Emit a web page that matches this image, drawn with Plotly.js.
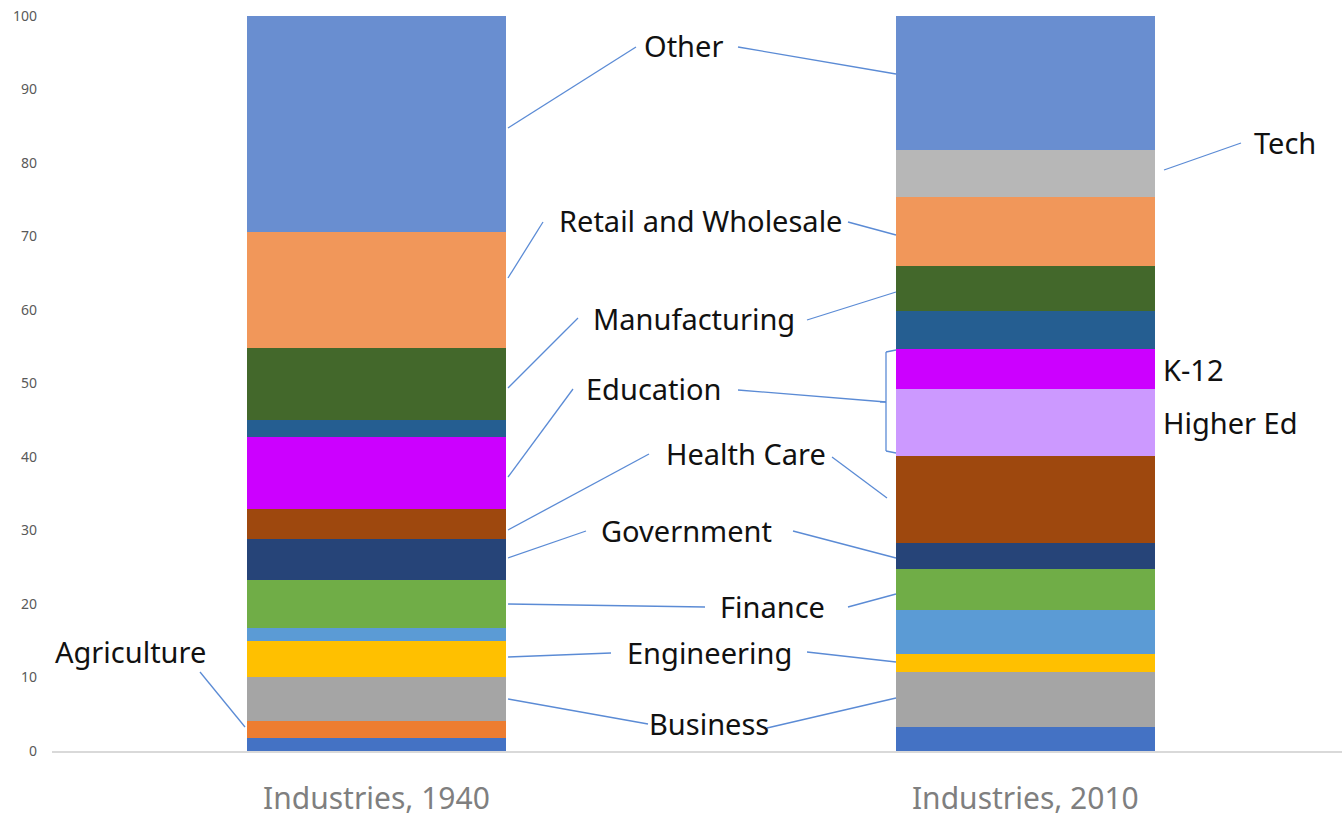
<!DOCTYPE html>
<html>
<head>
<meta charset="utf-8">
<script src="https://cdn.plot.ly/plotly-3.0.1.min.js"></script>
<style>html,body{margin:0;padding:0;background:#fff;}#chart{width:1342px;height:818px;}</style>
</head>
<body>
<div id="chart"></div>
<script>
// ---- data ----
const categories = ["Industries, 1940", "Industries, 2010"];
const seriesNames = ["Unlabeled A", "Agriculture", "Business", "Engineering", "Unlabeled B", "Finance",
  "Government", "Health Care", "Higher Ed", "Education (K-12)", "Unlabeled C", "Manufacturing",
  "Retail and Wholesale", "Tech", "Other"];
const values1940 = [1.8, 2.3, 6.0, 4.9, 1.7, 6.6, 5.5, 4.1, 0, 9.8, 2.3, 9.8, 15.8, 0, 29.4];
const values2010 = [3.2, 0, 7.5, 2.5, 6.0, 5.5, 3.6, 11.9, 9.0, 5.5, 5.1, 6.2, 9.4, 6.4, 18.2];
const yTickValues = [0, 10, 20, 30, 40, 50, 60, 70, 80, 90, 100];

// ---- styles ----
const colors = ["#4472C4", "#ED7D31", "#A5A5A5", "#FFC000", "#5B9BD5", "#70AD47",
  "#264478", "#9E480E", "#CC99FF", "#CC00FF", "#255E91", "#43682B",
  "#F1975A", "#B7B7B7", "#698ED0"];

const W = 1342, H = 818;
const M = {l: 52, r: 0, t: 16, b: 67};
const xRange = [-0.5, 1.488];
const plotW = W - M.l - M.r, plotH = H - M.t - M.b;
// helpers mapping layout pixel positions to axis coordinates
const X = px => xRange[0] + (px - M.l) / plotW * (xRange[1] - xRange[0]);
const Y = py => (H - M.b - py) / plotH * 100;

const traces = seriesNames.map((n, i) => ({
  type: "bar", name: n, x: categories, y: [values1940[i], values2010[i]],
  marker: {color: colors[i], line: {width: 0}}, hoverinfo: "name+y"
}));

// label annotations: [text, px, py]
const labels = [
  ["Other", 683, 45], ["Retail and Wholesale", 700, 220], ["Manufacturing", 694, 318],
  ["Education", 654, 388], ["Health Care", 746, 453], ["Government", 686, 530],
  ["Finance", 772, 606], ["Engineering", 709, 652], ["Business", 709, 723],
  ["Agriculture", 130, 651], ["Tech", 1285, 142], ["K-12", 1193, 369], ["Higher Ed", 1230, 422]
];
const annotations = labels.map(([t, px, py]) => ({
  text: t, x: X(px), y: Y(py), xref: "x", yref: "y", showarrow: false,
  font: {family: "Noto Sans, Open Sans, sans-serif", size: 29, color: "#111"},
  xanchor: "center", yanchor: "middle"
}));

// leader lines [x0,y0,x1,y1] in pixels
const leaders = [
  [508,128,636,47],[738,47,896,74],
  [508,278,543,222],[848,222,896,235],
  [508,388,578,318],[807,320,896,292],
  [508,477,573,389],[738,390,886,402],
  [508,530,649,454],[832,457,887,498],
  [508,558,586,531],[793,531,896,558],
  [508,604,705,607],[848,607,896,594],
  [508,657,611,653],[807,652,896,662],
  [508,699,648,724],[767,728,896,698],
  [200,672,245,727],[1164,170,1241,143],
  // bracket
  [896,350,886,352],[886,352,886,451],[886,451,896,453],[886,402,880,402]
];
const lineStyle = {color: "#5B8BD5", width: 1.3};
const shapes = leaders.map(([a,b,c,d]) => ({
  type: "line", xref: "x", yref: "y", x0: X(a), y0: Y(b), x1: X(c), y1: Y(d), line: lineStyle
}));

const layout = {
  width: W, height: H, margin: M, barmode: "stack", bargap: 0.6,
  paper_bgcolor: "#fff", plot_bgcolor: "#fff", showlegend: false,
  xaxis: {type: "category", range: xRange, showgrid: false, zeroline: false,
    showline: true, linecolor: "#D9D9D9", linewidth: 1.5, ticks: "",
    tickfont: {family: "Noto Sans, Open Sans, sans-serif", size: 30, color: "#7F7F7F"},
    ticklabelstandoff: 20},
  yaxis: {range: [0, 100], tickvals: yTickValues, showgrid: false, zeroline: false,
    showline: false, ticks: "",
    tickfont: {family: "Noto Sans, Open Sans, sans-serif", size: 14, color: "#595959"},
    ticklabelstandoff: 14},
  annotations: annotations, shapes: shapes
};

Plotly.newPlot("chart", traces, layout, {displayModeBar: false, staticPlot: true});
</script>
</body>
</html>
